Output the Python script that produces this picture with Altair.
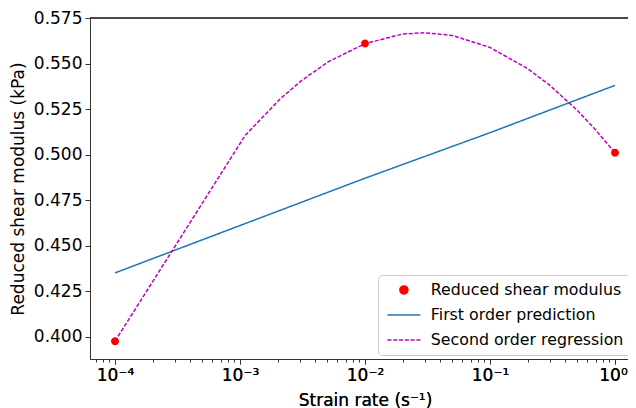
import altair as alt
import pandas as pd

# ---- data ----
series_names = ["Reduced shear modulus", "First order prediction", "Second order regression"]
series_colors = ["#ff0000", "#1f77b4", "#bf00bf"]

obs_x = [1e-4, 1e-2, 1.0]
obs_y = [0.3975, 0.561, 0.501]

lin_x = [1e-4, 1e-3, 1e-2, 1e-1, 1.0]
lin_y = [0.435, 0.461, 0.487, 0.512, 0.538]

quad_x = [1e-4, 1.1e-3, 2.1e-3, 3.1e-3, 5.1e-3, 1e-2, 2e-2, 3e-2, 5e-2, 1e-1, 2e-1, 3e-1, 5e-1, 7e-1, 1.0]
quad_y = [0.3975, 0.5105, 0.5306, 0.5406, 0.5510, 0.5609, 0.5662, 0.5669, 0.5654, 0.5588,
          0.5472, 0.5381, 0.5242, 0.5135, 0.501]

x_major = [1e-4, 1e-3, 1e-2, 1e-1, 1.0]
x_minor = [7e-5, 8e-5, 9e-5,
           2e-4, 3e-4, 4e-4, 5e-4, 6e-4, 7e-4, 8e-4, 9e-4,
           2e-3, 3e-3, 4e-3, 5e-3, 6e-3, 7e-3, 8e-3, 9e-3,
           2e-2, 3e-2, 4e-2, 5e-2, 6e-2, 7e-2, 8e-2, 9e-2,
           2e-1, 3e-1, 4e-1, 5e-1, 6e-1, 7e-1, 8e-1, 9e-1]
y_ticks = [0.400, 0.425, 0.450, 0.475, 0.500, 0.525, 0.550, 0.575]

obs = pd.DataFrame({"x": obs_x, "y": obs_y, "series": series_names[0]})
lines = pd.concat([
    pd.DataFrame({"x": lin_x, "y": lin_y, "series": series_names[1], "order": range(len(lin_x))}),
    pd.DataFrame({"x": quad_x, "y": quad_y, "series": series_names[2], "order": range(len(quad_x))}),
])

FONT = "DejaVu Sans"
W, H = 538, 341
SYM = 100  # symbol area -> unit path scaled by 5px
r = 0.8
CIRCLE = f"M {-r} 0 A {r} {r} 0 1 0 {r} 0 A {r} {r} 0 1 0 {-r} 0 Z"
LINE = "M -3.3 0 L 3.3 0"

xscale = alt.Scale(type="log", domain=[10 ** -4.2, 10 ** 0.104], nice=False)
yscale = alt.Scale(domain=[0.3877, 0.575], nice=False, zero=False)

x_axis = alt.Axis(
    values=x_major, title="Strain rate (s⁻¹)",
    labelExpr="datum.value >= 0.9 ? '10⁰' : datum.value >= 0.09 ? '10⁻¹' : datum.value >= 0.009 ? '10⁻²' : datum.value >= 0.0009 ? '10⁻³' : '10⁻⁴'",
    labelOffset={"condition": {"test": "datum.value >= 0.9", "value": -2}, "value": 0},
    labelFontSize=17, titleFontSize=17, tickSize=5, labelPadding=3, titlePadding=9,
    grid=False, domainColor="#333", tickColor="#333", labelColor="black", titleColor="black",
    titleFontWeight="normal", labelFont=FONT, titleFont=FONT, orient="bottom", labelOverlap=False,
    titleX=275,
)
x_axis_minor = alt.Axis(
    values=x_minor, labels=False, title=None, tickSize=3, grid=False, domain=False,
    tickColor="#333", orient="bottom",
)
y_axis = alt.Axis(
    values=y_ticks, format=".3f", title="Reduced shear modulus (kPa)",
    labelFontSize=17, titleFontSize=17, tickSize=5, labelPadding=3, titlePadding=6,
    grid=False, domainColor="#333", tickColor="#333", labelColor="black", titleColor="black",
    titleFontWeight="normal", labelFont=FONT, titleFont=FONT, labelOverlap=False,
)

legend = alt.Legend(
    title=None, orient="none", legendX=288, legendY=257,
    labelFontSize=15.8, labelFont=FONT, labelColor="black", labelLimit=400,
    padding=7, strokeColor="#cccccc", fillColor="white", cornerRadius=4,
    symbolSize=SYM, rowPadding=8, symbolOffset=11, labelOffset=19, symbolStrokeWidth=1.5,
)
color = alt.Color("series:N", scale=alt.Scale(domain=series_names, range=series_colors), legend=legend)
shape = alt.Shape("series:N", scale=alt.Scale(domain=series_names, range=[CIRCLE, LINE, LINE]), legend=legend)
dash = alt.StrokeDash("series:N", scale=alt.Scale(domain=series_names, range=[[1, 0], [1, 0], [4, 1.8]]), legend=legend)

line_layer = alt.Chart(lines).mark_line(strokeWidth=1.5, clip=True).encode(
    x=alt.X("x:Q", scale=xscale, axis=x_axis),
    y=alt.Y("y:Q", scale=yscale, axis=y_axis),
    color=color,
    order="order:Q",
    strokeDash=dash,
)

point_layer = alt.Chart(obs).mark_point(size=SYM, filled=True, opacity=1, clip=True).encode(
    x=alt.X("x:Q", scale=xscale, axis=x_axis),
    y=alt.Y("y:Q", scale=yscale, axis=y_axis),
    color=color,
    shape=shape,
)

minor_layer = alt.Chart(obs).mark_circle(opacity=0).encode(
    x=alt.X("x:Q", scale=xscale, axis=x_axis_minor),
    y=alt.Y("y:Q", scale=yscale, axis=y_axis),
)

top_spine = alt.Chart(obs).mark_rule(color="#333", strokeWidth=1).encode(
    x=alt.value(0), x2=alt.value(W), y=alt.value(0)
)

chart = (
    alt.layer(line_layer, point_layer, minor_layer, top_spine)
    .resolve_axis(x="independent")
    .resolve_scale(x="shared")
    .properties(
        width=W, height=H,
        autosize=alt.AutoSizeParams(type="none"),
        padding={"left": 82, "top": 10, "right": 0, "bottom": 49},
    )
    .configure_view(stroke=None)
    .configure(background="white")
)

chart.save("out.html", embed_options={"renderer": "svg", "actions": False})
